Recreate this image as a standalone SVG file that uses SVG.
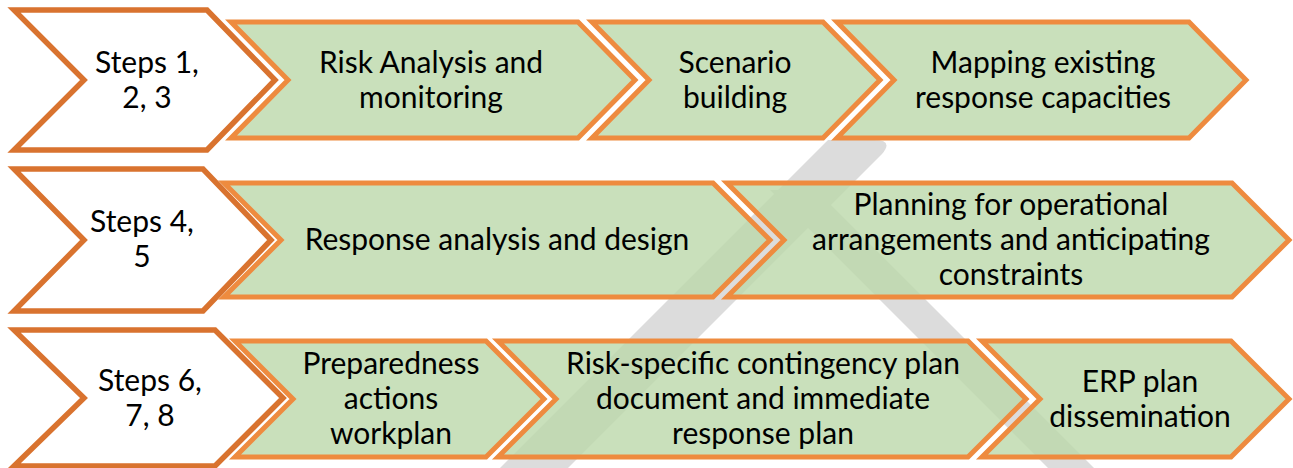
<svg xmlns="http://www.w3.org/2000/svg" width="1293" height="468" viewBox="0 0 1293 468">
<style>
.bg{fill:#ffffff}
.wm{fill:#dcdcdc}
.step{fill:#ffffff;stroke:#d9732f;stroke-width:5.5;stroke-linejoin:miter}
.act{fill:#bcd8aa;fill-opacity:0.8;stroke:#ee8b3f;stroke-width:5;stroke-linejoin:miter}
text{font-family:Lato,"Liberation Sans",sans-serif;font-size:30px;fill:#000000;text-anchor:middle}
</style>
<rect class="bg" x="0" y="0" width="1293" height="468"/>
<g id="watermark">
<path class="wm" d="M828,140 L874,140 Q894,140 882,154 L568,468 L500,468 Z"/>
<path class="wm" d="M770,190 L816,190 L1094,468 L1048,468 Z"/>
</g>
<g id="connectors"></g>
<g id="step123">
<polygon class="step" points="14,10 207,10 275,80 207,150 14,150 84,80"/>
<text x="147" y="73">Steps 1,</text>
<text x="147" y="108">2, 3</text>
</g>
<g id="risk-analysis">
<polygon class="act" points="231,22 578,22 635,80 578,138 231,138 288,80"/>
<text x="431" y="73">Risk Analysis and</text>
<text x="431" y="108">monitoring</text>
</g>
<g id="scenario">
<polygon class="act" points="592,22 823,22 880,80 823,138 592,138 649,80"/>
<text x="735" y="73">Scenario</text>
<text x="735" y="108">building</text>
</g>
<g id="mapping">
<polygon class="act" points="837,22 1189,22 1246,80 1189,138 837,138 894,80"/>
<text x="1043" y="73">Mapping existing</text>
<text x="1043" y="108">response capacities</text>
</g>
<g id="step45">
<polygon class="step" points="14,169 203,169 271,240 203,311 14,311 84,240"/>
<text x="142" y="232">Steps 4,</text>
<text x="142" y="267">5</text>
</g>
<g id="response-analysis">
<polygon class="act" points="224,183 713,183 770,240 713,297 224,297 281,240"/>
<text x="497" y="250">Response analysis and design</text>
</g>
<g id="planning">
<polygon class="act" points="727,183 1232,183 1289,240 1232,297 727,297 784,240"/>
<text x="1011" y="215">Planning for operational</text>
<text x="1011" y="250">arrangements and anticipating</text>
<text x="1011" y="285">constraints</text>
</g>
<g id="step678">
<polygon class="step" points="14,330 215,330 283,398 215,466 14,466 84,398"/>
<text x="150" y="391">Steps 6,</text>
<text x="150" y="426">7, 8</text>
</g>
<g id="preparedness">
<polygon class="act" points="235,341 486,341 544,399 486,457 235,457 293,399"/>
<text x="391" y="374">Preparedness</text>
<text x="391" y="409">actions</text>
<text x="391" y="444">workplan</text>
</g>
<g id="contingency">
<polygon class="act" points="498,341 968,341 1026,399 968,457 498,457 556,399"/>
<text x="763" y="374">Risk-specific contingency plan</text>
<text x="763" y="409">document and immediate</text>
<text x="763" y="444">response plan</text>
</g>
<g id="erp">
<polygon class="act" points="982,341 1231,341 1289,399 1231,457 982,457 1040,399"/>
<text x="1140" y="392">ERP plan</text>
<text x="1140" y="427">dissemination</text>
</g>
</svg>
